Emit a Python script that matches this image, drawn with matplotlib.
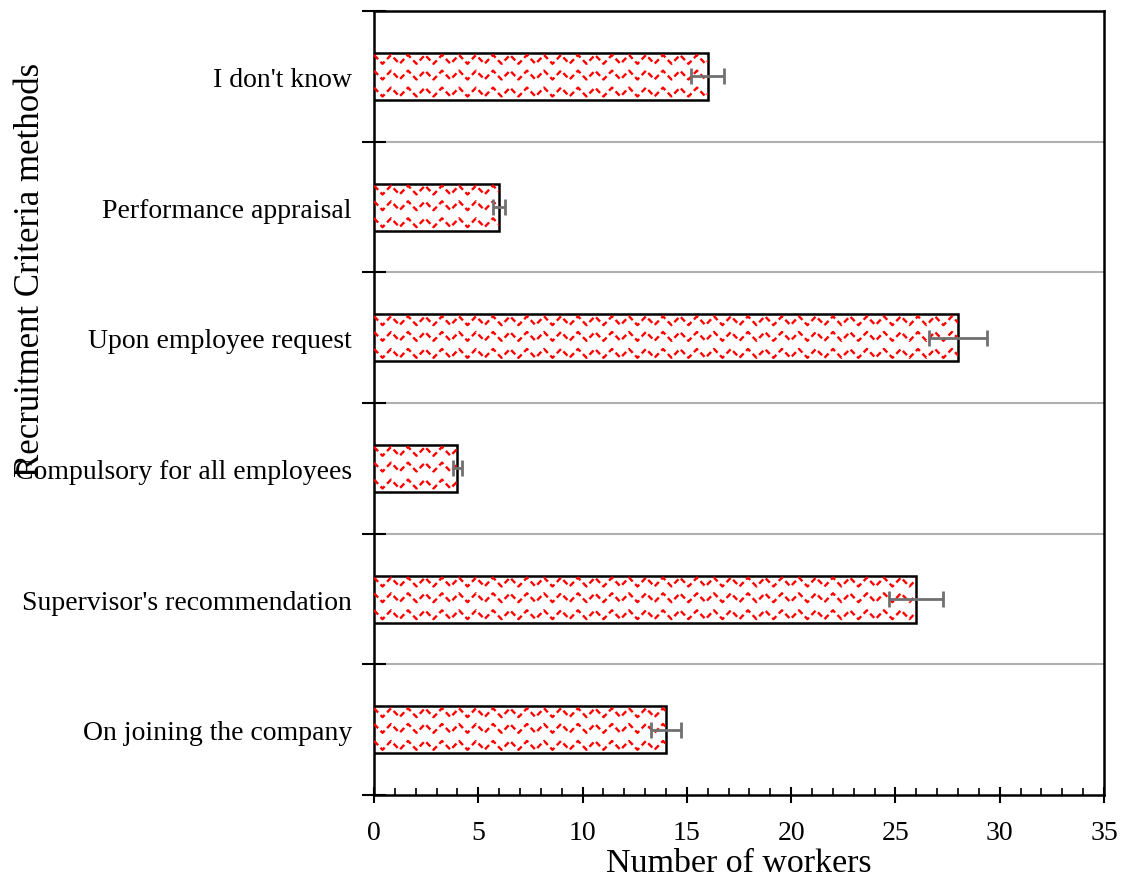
import numpy as np
import matplotlib
matplotlib.use("Agg")
import matplotlib.pyplot as plt
from matplotlib.ticker import MultipleLocator, FixedLocator

plt.rcParams["font.family"] = ["Liberation Serif", "DejaVu Serif"]

# ── Data (bottom to top) ──────────────────────────────────────────────────────
categories = [
    "On joining the company",
    "Supervisor's recommendation",
    "Compulsory for all employees",
    "Upon employee request",
    "Performance appraisal",
    "I don't know",
]
workers = [14, 26, 4, 28, 6, 16]
errors = [0.7, 1.3, 0.2, 1.4, 0.3, 0.8]

BAR_H = 0.36
ZIG_PERIOD = 0.815   # x units per zigzag
ZIG_AMP = 0.034      # y units

fig = plt.figure(figsize=(11.28, 8.79), dpi=100)
ax = fig.add_axes([0.3316, 0.0944, 0.6471, 0.8919])

ypos = np.arange(len(categories))
bars = ax.barh(ypos, workers, height=BAR_H, color="white",
               edgecolor="black", linewidth=1.8, zorder=3)

# red zigzag fill pattern, clipped to each bar
for bar, y in zip(bars, ypos):
    w = bar.get_width()
    xs = np.arange(0, w + ZIG_PERIOD, ZIG_PERIOD / 2)
    for off in (-0.12, 0.01, 0.13):
        ys = y + off + np.where(np.arange(len(xs)) % 2 == 0, ZIG_AMP, -ZIG_AMP)
        ln, = ax.plot(xs, ys, color="red", lw=1.7, ls=(0, (2.5, 1.5)),
                      zorder=3.5, solid_capstyle="butt")
        ln.set_clip_path(bar)

ax.errorbar(workers, ypos, xerr=errors, fmt="none", ecolor="#707070",
            elinewidth=2, capsize=6, capthick=2, zorder=4)

ax.set_xlim(0, 35)
ax.set_ylim(-0.5, len(categories) - 0.5)

ax.xaxis.set_major_locator(MultipleLocator(5))
ax.xaxis.set_minor_locator(MultipleLocator(1))
ax.tick_params(axis="x", which="major", direction="inout", length=12, width=1.5,
               labelsize=20, pad=12)
ax.tick_params(axis="x", which="minor", direction="in", length=5, width=1.2)

# category labels at centres, tick marks at boundaries
ax.set_yticks(ypos)
ax.set_yticklabels(categories)
ax.tick_params(axis="y", which="major", length=0, labelsize=20, pad=16)
bounds = np.arange(-0.5, len(categories), 1.0)
ax.yaxis.set_minor_locator(FixedLocator(bounds))
ax.tick_params(axis="y", which="minor", direction="inout", length=17, width=1.5)

for b in bounds[1:-1]:
    ax.axhline(b, color="#b0b0b0", lw=1.5, zorder=1)

for sp in ax.spines.values():
    sp.set_linewidth(1.8)

ax.set_xlabel("Number of workers", fontsize=24.5, labelpad=2)
fig.text(0.027, 1 - 270 / 879, "Recruitment Criteria methods", rotation=90,
         fontsize=25, ha="center", va="center")

fig.savefig("out.png", dpi=100)
